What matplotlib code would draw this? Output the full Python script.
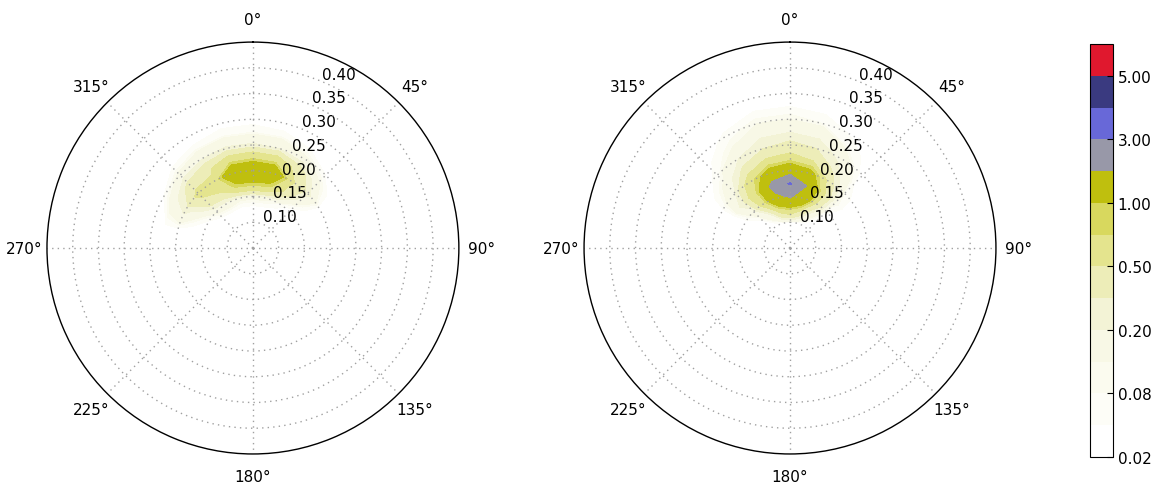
import numpy as np
import matplotlib
matplotlib.use('Agg')
import matplotlib.pyplot as plt
from matplotlib.colors import ListedColormap, BoundaryNorm

# grid of the two spectra (direction in deg, frequency in Hz)
dirs = [-90, -75, -60, -45, -30, -15, 0, 15, 30, 45, 60, 75]
freqs_left = [0.100, 0.125, 0.150, 0.175, 0.200, 0.225, 0.250, 0.275, 0.300, 0.325]
freqs_right = [0.100, 0.125, 0.150, 0.175, 0.200, 0.225, 0.250, 0.275, 0.300, 0.325, 0.350, 0.375]

# values (rows = freqs_left, cols = dirs)
spec_left = [
    [0, 0,    0,    0,    0,    0,    0,    0,    0,    0,    0,    0],
    [0, 0,    0,    0.01, 0.02, 0.02, 0.02, 0.02, 0.01, 0,    0,    0],
    [0, 0.01, 0.04, 0.12, 0.15, 0.12, 0.12, 0.12, 0.08, 0.02, 0,    0],
    [0, 0.02, 0.12, 0.40, 0.50, 0.88, 0.90, 0.85, 0.45, 0.12, 0.01, 0],
    [0, 0.05, 0.25, 0.58, 0.55, 1.60, 1.70, 1.60, 0.55, 0.25, 0.02, 0],
    [0, 0.05, 0.15, 0.35, 0.45, 0.70, 0.75, 0.70, 0.40, 0.12, 0.01, 0],
    [0, 0.02, 0.05, 0.12, 0.18, 0.22, 0.22, 0.20, 0.12, 0.05, 0,    0],
    [0, 0,    0.02, 0.04, 0.06, 0.08, 0.08, 0.07, 0.04, 0.02, 0,    0],
    [0, 0,    0,    0.01, 0.02, 0.03, 0.03, 0.02, 0.01, 0,    0,    0],
    [0, 0,    0,    0,    0,    0,    0,    0,    0,    0,    0,    0],
]

# values (rows = freqs_right, cols = dirs)
spec_right = [
    [0, 0,    0,    0,    0.01, 0.03, 0.05, 0.03, 0.01, 0,    0,    0],
    [0, 0,    0.01, 0.05, 0.20, 0.60, 0.80, 0.50, 0.15, 0.03, 0,    0],
    [0, 0,    0.03, 0.15, 0.70, 1.70, 2.10, 1.60, 0.50, 0.06, 0,    0],
    [0, 0.01, 0.05, 0.30, 0.85, 2.40, 3.10, 2.00, 0.60, 0.10, 0.01, 0],
    [0, 0.01, 0.05, 0.20, 0.70, 1.30, 1.60, 1.20, 0.40, 0.08, 0.01, 0],
    [0, 0,    0.03, 0.12, 0.35, 0.55, 0.60, 0.50, 0.25, 0.05, 0,    0],
    [0, 0,    0.02, 0.06, 0.20, 0.30, 0.35, 0.30, 0.15, 0.03, 0,    0],
    [0, 0,    0.01, 0.04, 0.10, 0.18, 0.20, 0.17, 0.08, 0.02, 0,    0],
    [0, 0,    0,    0.02, 0.06, 0.10, 0.10, 0.08, 0.04, 0.01, 0,    0],
    [0, 0,    0,    0.01, 0.03, 0.05, 0.05, 0.04, 0.02, 0,    0,    0],
    [0, 0,    0,    0,    0.01, 0.02, 0.02, 0.02, 0.01, 0,    0,    0],
    [0, 0,    0,    0,    0,    0,    0,    0,    0,    0,    0,    0],
]

levels = [0.02, 0.05, 0.08, 0.1, 0.2, 0.3, 0.5, 0.8, 1.0, 2.0, 3.0, 4.0, 5.0, 6.0]
level_colors = ['#ffffff', '#fdfdf7', '#fbfbef', '#f8f8e6', '#f3f3d6', '#ededb8',
                '#e4e48e', '#d8d85e', '#bfbf0e', '#9898a8', '#6868d8', '#3a3a80', '#e0182e']
cbar_ticks = [0.02, 0.08, 0.2, 0.5, 1.0, 3.0, 5.0]
rticks = [0.10, 0.15, 0.20, 0.25, 0.30, 0.35, 0.40]

cmap = ListedColormap(level_colors)
norm = BoundaryNorm(levels, cmap.N)

fig = plt.figure(figsize=(11.57, 4.89), dpi=100)
ax1 = fig.add_axes([0.0406, 0.0695, 0.356, 0.8425], projection='polar')
ax2 = fig.add_axes([0.5048, 0.0695, 0.356, 0.8425], projection='polar')
cax = fig.add_axes([0.942, 0.0634, 0.0199, 0.8446])

for ax, fr, spec in [(ax1, freqs_left, spec_left), (ax2, freqs_right, spec_right)]:
    th, rr = np.meshgrid(np.deg2rad(dirs), fr)
    cs = ax.contourf(th, rr, np.array(spec), levels=levels, cmap=cmap, norm=norm)
    ax.set_theta_zero_location('N')
    ax.set_theta_direction(-1)
    ax.set_ylim(0.05, 0.45)
    ax.set_rgrids(rticks, labels=['%.2f' % r for r in rticks], angle=22.5, fontsize=11)
    ax.set_thetagrids(np.arange(0, 360, 45), labels=['%d°' % a for a in range(0, 360, 45)], fontsize=11)
    ax.tick_params(axis='x', pad=6)
    # sparse dotted grid, like the old matplotlib look
    ax.grid(True, linestyle=(0, (1, 3)), color='#a0a0a0', linewidth=1)
    ax.spines['polar'].set_linewidth(1)

cb = fig.colorbar(cs, cax=cax, ticks=cbar_ticks)
cb.ax.minorticks_off()
cb.ax.set_yticklabels(['%.2f' % t for t in cbar_ticks], fontsize=11)
cb.ax.tick_params(direction='in', length=4, width=0.8)
cb.outline.set_linewidth(0.8)

plt.savefig('out.png', dpi=100)
